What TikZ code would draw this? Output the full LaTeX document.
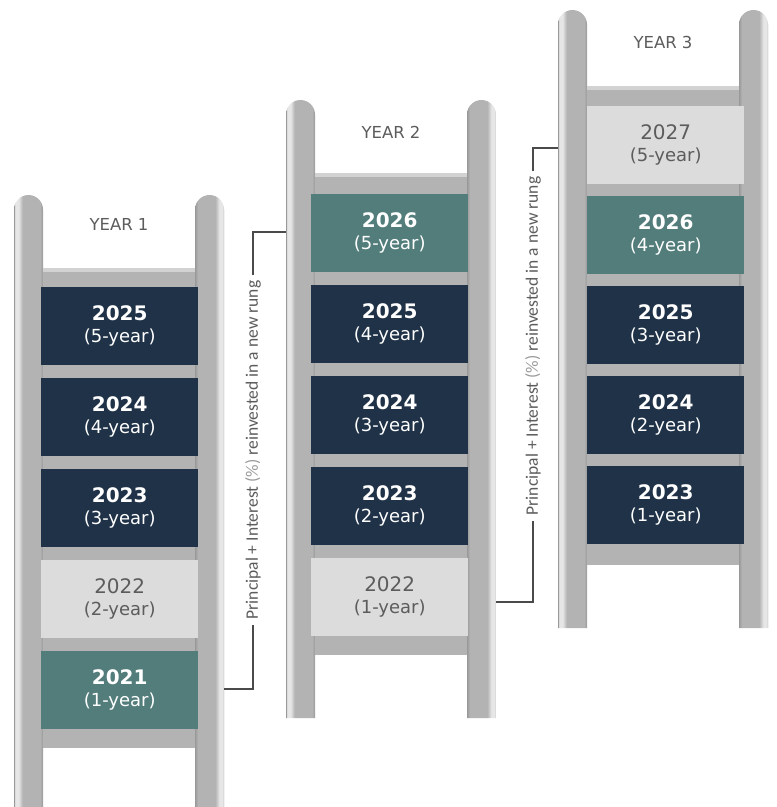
\documentclass[tikz,border=0pt]{standalone}
\usepackage{fontspec}
\setmainfont{DejaVu Sans}
\newfontfamily\carl{Carlito}
\definecolor{navybox}{HTML}{1F3247}
\definecolor{tealbox}{HTML}{527D7B}
\definecolor{lightbox}{HTML}{DCDCDC}
\definecolor{rungc}{HTML}{B3B3B3}
\definecolor{railc}{HTML}{B3B3B3}
\definecolor{railhl}{HTML}{E6E6E6}
\definecolor{raildk}{HTML}{999999}
\definecolor{txtgray}{HTML}{5C5C5C}
\definecolor{pctgray}{HTML}{9A9A9A}
\definecolor{linec}{HTML}{4A4A4A}
\pgfdeclarehorizontalshading{railL}{100bp}{color(0bp)=(raildk); color(25bp)=(raildk); color(27bp)=(railhl); color(33bp)=(railhl); color(40bp)=(railc); color(70bp)=(railc); color(75bp)=(raildk); color(100bp)=(raildk)}
\pgfdeclarehorizontalshading{railR}{100bp}{color(0bp)=(raildk); color(25bp)=(raildk); color(30bp)=(railc); color(60bp)=(railc); color(67bp)=(railhl); color(73bp)=(railhl); color(75bp)=(raildk); color(100bp)=(raildk)}
\newcommand\myladder[5]{%
  \path[shading=railL] (#1,#5) -- (#1,#2+14.5) arc[start angle=180,end angle=360,radius=14.5] -- (#1+29,#5) -- cycle;
  \path[shading=railR] (#1+181,#5) -- (#1+181,#2+14.5) arc[start angle=180,end angle=360,radius=14.5] -- (#1+210,#5) -- cycle;
  \fill[rungc] (#1+29,#3) rectangle (#1+181,#4);
  \fill[railhl!60!rungc] (#1+29,#3) rectangle (#1+181,#3+4);
}
\tikzset{
  rungbox/.style={minimum width=157pt, minimum height=78pt, inner sep=0pt, align=center, anchor=north west,
    font=\fontsize{18}{22}\selectfont},
  darkbox/.style={rungbox, fill=navybox, text=white},
  tealrung/.style={rungbox, fill=tealbox, text=white},
  lightrung/.style={rungbox, fill=lightbox, text=txtgray},
  yearlbl/.style={text=txtgray, font=\fontsize{16.5}{19}\selectfont},
  rottext/.style={rotate=90, text=txtgray, font=\carl\fontsize{17.5}{20}\selectfont, inner xsep=6pt, inner ysep=0pt},
  conn/.style={draw=linec, line width=1.2pt}
}
\newcommand\yb[1]{{\fontsize{20}{22}\selectfont\bfseries #1}}
\newcommand\yr[1]{{\fontsize{20}{22}\selectfont #1}}
\begin{document}
\begin{tikzpicture}[x=1pt,y=-1pt]
\useasboundingbox (0,0) rectangle (777,807);
% ladders
\myladder{14}{195}{268}{748}{807}
\myladder{286}{100}{173}{655}{718}
\myladder{558}{10}{86}{565}{628}
% year labels
\node[yearlbl] (yr1) at (119,224) {YEAR 1};
\node[yearlbl] (yr2) at (391,132) {YEAR 2};
\node[yearlbl] (yr3) at (663,42) {YEAR 3};
% ladder 1
\node[darkbox] (a1) at (41,287) {\yb{2025}\\(5-year)};
\node[darkbox] (a2) at (41,378) {\yb{2024}\\(4-year)};
\node[darkbox] (a3) at (41,469) {\yb{2023}\\(3-year)};
\node[lightrung] (a4) at (41,560) {\yr{2022}\\(2-year)};
\node[tealrung] (a5) at (41,651) {\yb{2021}\\(1-year)};
% ladder 2
\node[tealrung] (b1) at (311,194) {\yb{2026}\\(5-year)};
\node[darkbox] (b2) at (311,285) {\yb{2025}\\(4-year)};
\node[darkbox] (b3) at (311,376) {\yb{2024}\\(3-year)};
\node[darkbox] (b4) at (311,467) {\yb{2023}\\(2-year)};
\node[lightrung] (b5) at (311,558) {\yr{2022}\\(1-year)};
% ladder 3
\node[lightrung] (c1) at (587,106) {\yr{2027}\\(5-year)};
\node[tealrung] (c2) at (587,196) {\yb{2026}\\(4-year)};
\node[darkbox] (c3) at (587,286) {\yb{2025}\\(3-year)};
\node[darkbox] (c4) at (587,376) {\yb{2024}\\(2-year)};
\node[darkbox] (c5) at (587,466) {\yb{2023}\\(1-year)};
% connectors
\coordinate (p1a) at (224,689);
\coordinate (p1b) at (286,232);
\coordinate (p2a) at (496,602);
\coordinate (p2b) at (558,148);
\node[rottext] (t1) at (253,450) {Principal + Interest {\color{pctgray}(\%)} reinvested in a new rung};
\node[rottext] (t2) at (533,346) {Principal + Interest {\color{pctgray}(\%)} reinvested in a new rung};
\draw[conn] (p1a) -| (t1.west);
\draw[conn] (t1.east) |- (p1b);
\draw[conn] (p2a) -| (t2.west);
\draw[conn] (t2.east) |- (p2b);
\end{tikzpicture}
\end{document}
